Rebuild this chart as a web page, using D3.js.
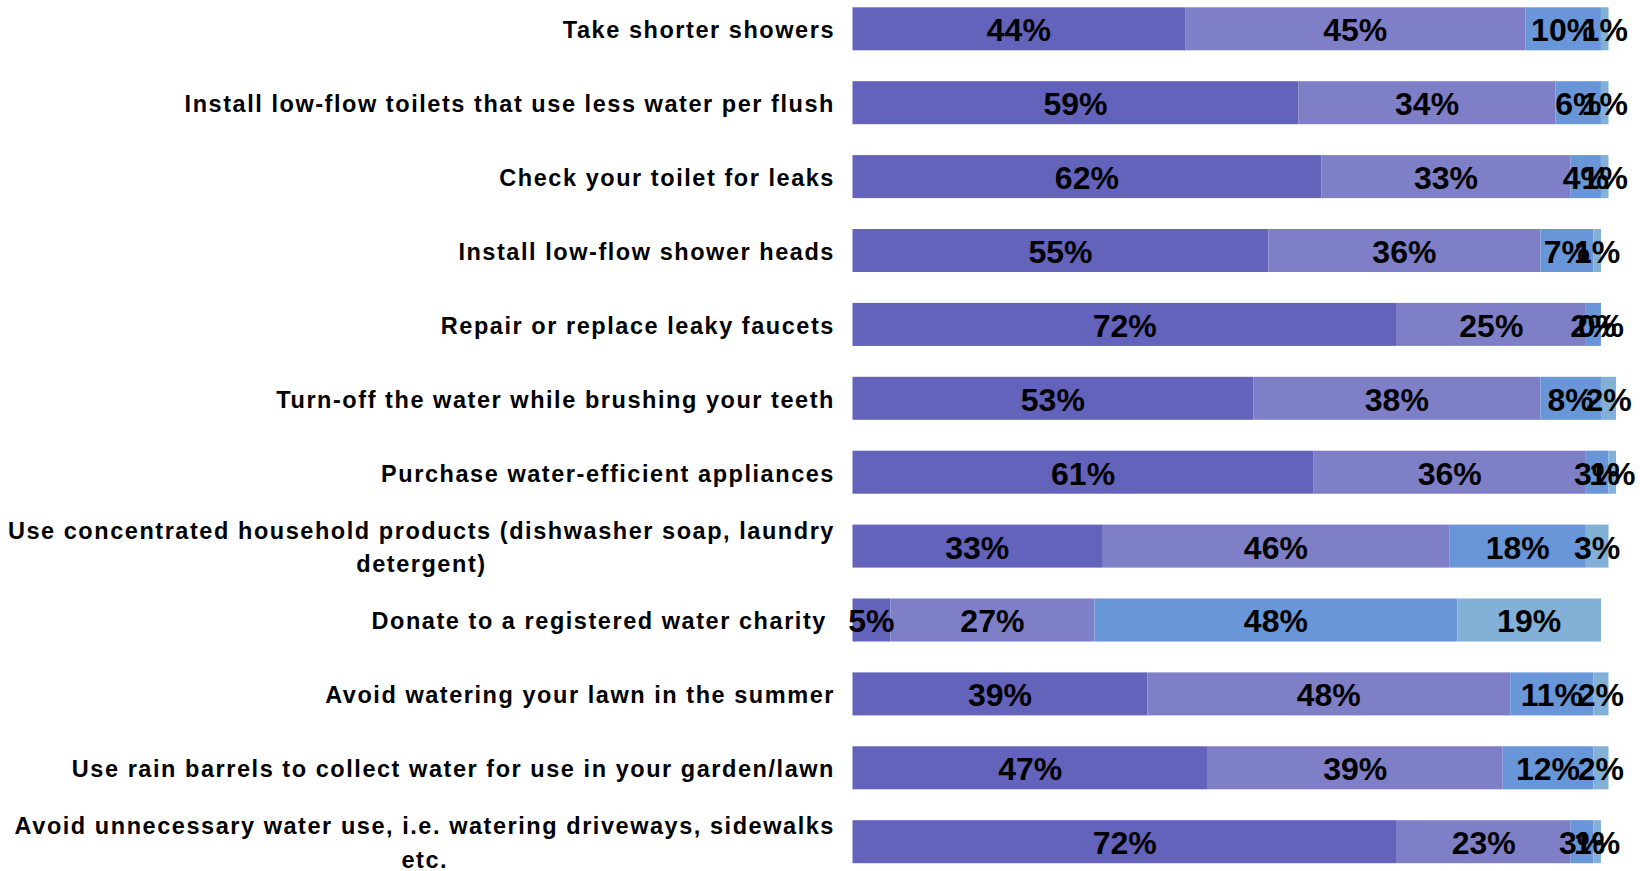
<!DOCTYPE html>
<html>
<head>
<meta charset="utf-8">
<script src="https://cdn.jsdelivr.net/npm/d3@7"></script>
<style>
  html, body { margin: 0; padding: 0; background: #ffffff; }
  svg { display: block; }
  text { font-family: "Liberation Sans", Arial, sans-serif; font-weight: bold; fill: #000; }
</style>
</head>
<body>
<svg id="chart" width="1640" height="871"></svg>
<script>
// Water-saving actions and share of respondents by likelihood
const categories = [
  "Take shorter showers",
  "Install low-flow toilets that use less water per flush",
  "Check your toilet for leaks",
  "Install low-flow shower heads",
  "Repair or replace leaky faucets",
  "Turn-off the water while brushing your teeth",
  "Purchase water-efficient appliances",
  "Use concentrated household products (dishwasher soap, laundry detergent)",
  "Donate to a registered water charity\u00a0",
  "Avoid watering your lawn in the summer",
  "Use rain barrels to collect water for use in your garden/lawn",
  "Avoid unnecessary water use, i.e. watering driveways, sidewalks etc."
];
const seriesKeys = ["veryLikely", "somewhatLikely", "notVeryLikely", "notAtAllLikely"];
const veryLikely     = [44, 59, 62, 55, 72, 53, 61, 33,  5, 39, 47, 72];
const somewhatLikely = [45, 34, 33, 36, 25, 38, 36, 46, 27, 48, 39, 23];
const notVeryLikely  = [10,  6,  4,  7,  2,  8,  3, 18, 48, 11, 12,  3];
const notAtAllLikely = [ 1,  1,  1,  1,  0,  2,  1,  3, 19,  2,  2,  1];
const seriesColors = ["#6363bb", "#7f7fc8", "#6896d8", "#82b0d6"];

const rows = categories.map((c, i) => ({
  category: c,
  veryLikely: veryLikely[i],
  somewhatLikely: somewhatLikely[i],
  notVeryLikely: notVeryLikely[i],
  notAtAllLikely: notAtAllLikely[i]
}));

const svg = d3.select("#chart");

const x = d3.scaleLinear().domain([0, 100]).range([852.5, 1608.5]);
const y = d3.scaleBand().domain(categories).range([7.3, 863.2])
  .paddingInner(0.418).paddingOuter(0);
const color = d3.scaleOrdinal().domain(seriesKeys).range(seriesColors);

const stacked = d3.stack().keys(seriesKeys)(rows);

// bars
const layers = svg.append("g").selectAll("g")
  .data(stacked).join("g")
  .attr("fill", d => color(d.key));

layers.selectAll("rect")
  .data(d => d)
  .join("rect")
  .attr("x", d => x(d[0]))
  .attr("y", d => y(d.data.category))
  .attr("width", d => x(d[1]) - x(d[0]))
  .attr("height", y.bandwidth());

// value labels
const textNudge = 1.5;
const labelLayers = svg.append("g").selectAll("g")
  .data(stacked).join("g");

labelLayers.selectAll("text")
  .data(d => d)
  .join("text")
  .attr("x", d => (x(d[0]) + x(d[1])) / 2)
  .attr("y", d => y(d.data.category) + y.bandwidth() / 2 + textNudge)
  .attr("text-anchor", "middle")
  .attr("dominant-baseline", "central")
  .style("font-size", "32px")
  .text(d => (d[1] - d[0]) + "%");

// category labels, wrapped and centred as a right-aligned block
const labelRight = 835;
const maxLabelWidth = 850;
const catFont = 23.5;
const catSpacing = 1.55;
const lineHeight = 33.5;

const catG = svg.append("g");
const probe = catG.append("text")
  .style("font-size", catFont + "px")
  .style("letter-spacing", catSpacing + "px");

function measure(s) {
  probe.text(s);
  return probe.node().getComputedTextLength();
}

categories.forEach(cat => {
  const words = cat.split(" ");
  const lines = [];
  let line = "";
  words.forEach(w => {
    const test = line ? line + " " + w : w;
    if (line && measure(test) > maxLabelWidth) {
      lines.push(line);
      line = w;
    } else {
      line = test;
    }
  });
  if (line) lines.push(line);
  const widths = lines.map(measure);
  const blockW = d3.max(widths);
  const cx = labelRight - blockW / 2;
  const cy = y(cat) + y.bandwidth() / 2 + textNudge;
  const t = catG.append("text")
    .attr("text-anchor", "middle")
    .style("font-size", catFont + "px")
    .style("letter-spacing", catSpacing + "px");
  lines.forEach((l, i) => {
    t.append("tspan")
      .attr("x", cx)
      .attr("y", cy + (i - (lines.length - 1) / 2) * lineHeight)
      .attr("dominant-baseline", "central")
      .text(l);
  });
});
probe.remove();
</script>
</body>
</html>
